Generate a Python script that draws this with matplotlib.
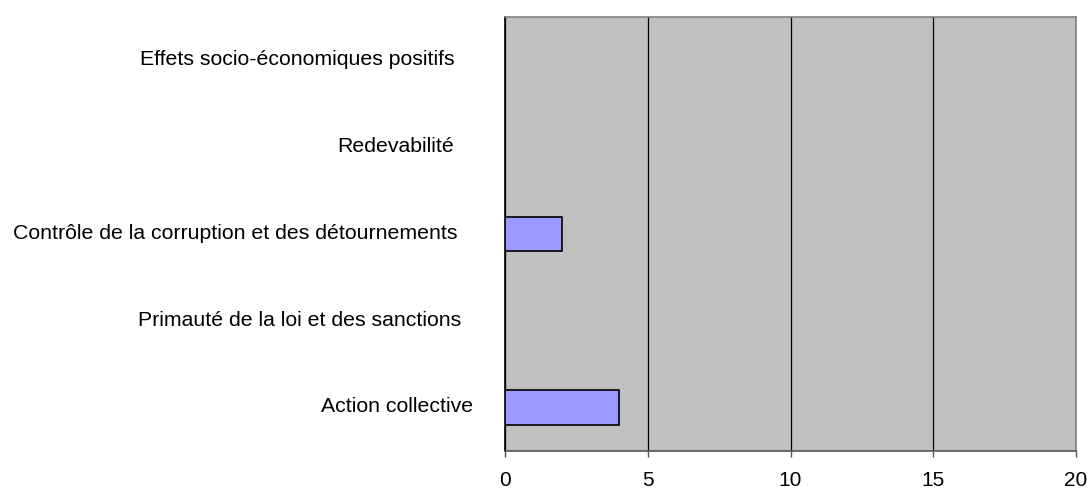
import matplotlib
matplotlib.use("Agg")
import matplotlib.pyplot as plt
import matplotlib.transforms as mtransforms

plt.rcParams['font.family'] = ['Liberation Sans', 'DejaVu Sans']

categories = [
    "Action collective",
    "Primauté de la loi et des sanctions",
    "Contrôle de la corruption et des détournements",
    "Redevabilité",
    "Effets socio-économiques positifs",
]
values = [4, 0, 2, 0, 0]
x_ticks = [0, 5, 10, 15, 20]

# label gaps (points) so right edges land like the original
label_pads = [23, 31.5, 34.5, 36.5, 36]

fig = plt.figure(figsize=(10.91, 4.91), dpi=100)
ax = fig.add_axes([505 / 1091, 40 / 491, 571 / 1091, 434 / 491])
ax.set_facecolor("#c0c0c0")

pos = range(len(categories))
ax.barh(pos, values, height=0.4, color="#9999ff", edgecolor="black", linewidth=1.2, zorder=3)

ax.set_xlim(0, 20)
ax.set_ylim(-0.5, len(categories) - 0.5)
ax.set_xticks(x_ticks)
ax.set_xticklabels([str(t) for t in x_ticks], fontsize=15)
ax.set_yticks(list(pos))
ax.set_yticklabels(categories, fontsize=15.3)

for t, p in zip(ax.yaxis.get_major_ticks(), label_pads):
    t.set_pad(p)
ax.tick_params(axis="y", length=0)
ax.tick_params(axis="x", length=4.3, width=1, color="#555555", pad=10)

# labels sit a touch above the band centre in the original
shift = mtransforms.ScaledTranslation(0, 2 / 72, fig.dpi_scale_trans)
for lbl in ax.get_yticklabels():
    lbl.set_transform(lbl.get_transform() + shift)

ax.xaxis.grid(True, color="black", linewidth=0.9, zorder=1)
ax.set_axisbelow(True)

ax.spines["left"].set_color("black")
ax.spines["bottom"].set_color("#555555")
ax.spines["top"].set_color("#808080")
ax.spines["right"].set_color("#808080")
for s in ax.spines.values():
    s.set_linewidth(1.2)

fig.savefig("out.png", dpi=100)
